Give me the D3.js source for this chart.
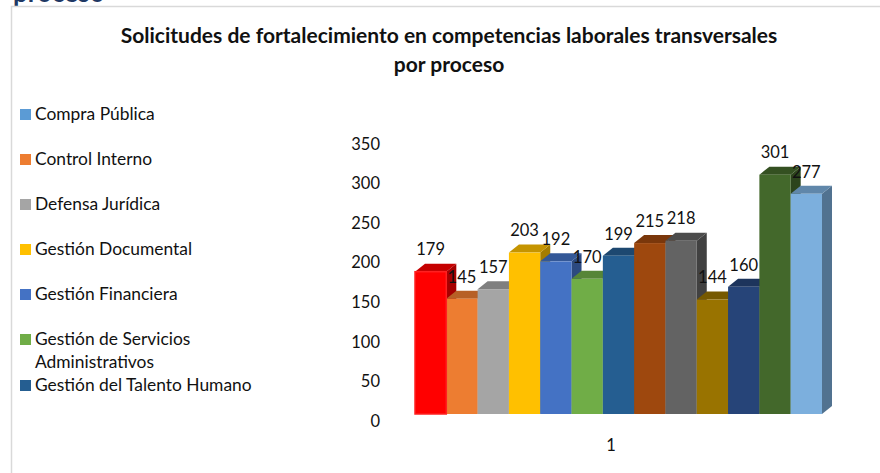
<!DOCTYPE html>
<html>
<head>
<meta charset="utf-8">
<script src="https://cdn.jsdelivr.net/npm/d3@7"></script>
<style>
    html, body { margin: 0; background: #fff; overflow: hidden; }
    text { font-family: Lato, "Open Sans", sans-serif; fill: #111; }
</style>
</head>
<body>
<div id="chart"></div>
<script>
const widthMax = 880;
const heightMax = 473;

const titleLines = ["Solicitudes de fortalecimiento en competencias laborales transversales", "por proceso"];
const legendNames = [
    ["Compra Pública"],
    ["Control Interno"],
    ["Defensa Jurídica"],
    ["Gestión Documental"],
    ["Gestión Financiera"],
    ["Gestión de Servicios", "Administrativos"],
    ["Gestión del Talento Humano"],
];
const legendColors = ["#5b9bd5", "#ed7d31", "#a5a5a5", "#ffc000", "#4472c4", "#70ad47", "#255e91"];
const legendRows = [114, 159, 204, 249, 294, 339, 385];

// bars left to right, the legend in the picture is cut off after the 7th name
const barValues = [179, 145, 157, 203, 192, 170, 199, 215, 218, 144, 160, 301, 277];
const barColors = ["#ff0000", "#ed7d31", "#a5a5a5", "#ffc000", "#4472c4", "#70ad47", "#255e91",
                   "#9e480e", "#636363", "#997300", "#264478", "#43682b", "#7cafdd"];
const yTicks = [0, 50, 100, 150, 200, 250, 300, 350];
const xLabel = "1";

const depthX = 10, depthY = 8;

const svg = d3.select("#chart").append("svg")
    .attr("width", widthMax)
    .attr("height", heightMax);

// clipped heading of the page above the chart
svg.append("text")
    .text("proceso")
    .attr("x", 13)
    .attr("y", 2)
    .style("font-size", "26px")
    .style("font-weight", "bold")
    .style("fill", "#1f3864");

// chart frame
svg.append("path")
    .attr("d", "M11.5,473V6.5H880")
    .attr("fill", "none")
    .attr("stroke", "#d9d9d9")
    .attr("stroke-width", 1.5);

// title
svg.append("g").selectAll("text")
    .data(titleLines)
    .enter()
    .append("text")
    .text((d) => d)
    .attr("x", 449)
    .attr("y", (d, i) => 43 + i * 29)
    .attr("text-anchor", "middle")
    .style("font-size", "21px")
    .style("font-weight", "bold");

// legend
const legend = svg.append("g");
legend.selectAll("rect")
    .data(legendColors)
    .enter()
    .append("rect")
    .attr("x", 20)
    .attr("y", (d, i) => legendRows[i] - 5)
    .attr("width", 11)
    .attr("height", 11)
    .attr("fill", (d) => d);
legend.selectAll("text")
    .data(legendNames)
    .enter()
    .append("text")
    .attr("y", (d, i) => legendRows[i])
    .style("font-size", "17.4px")
    .selectAll("tspan")
    .data((d) => d)
    .enter()
    .append("tspan")
    .attr("x", 35)
    .attr("dy", (d, i) => i == 0 ? "0.35em" : 23)
    .text((d) => d);

// scales: bars stand on 414, the axis labels sit 7px lower because of the 3D floor
const xScale = d3.scaleBand()
    .domain(d3.range(barValues.length))
    .range([415, 822])
    .padding(0);
const yScale = d3.scaleLinear()
    .domain([0, 350])
    .range([414, 414 - 350 * 0.795]);
const yAxisScale = d3.scaleLinear()
    .domain([0, 350])
    .range([421, 144]);

const yAxis = svg.append("g")
    .attr("transform", "translate(387,0)")
    .call(d3.axisLeft(yAxisScale).tickValues(yTicks).tickSize(0).tickPadding(7));
yAxis.select(".domain").remove();
yAxis.selectAll("text").style("font-size", "16.5px").style("font-family", "Lato");

svg.append("text")
    .text(xLabel)
    .attr("x", 611)
    .attr("y", 445)
    .attr("dy", "0.35em")
    .attr("text-anchor", "middle")
    .style("font-size", "16.5px");

// bars
const bars = svg.append("g").selectAll("g")
    .data(barValues)
    .enter()
    .append("g");

bars.append("path")
    .attr("fill", (d, i) => d3.color(barColors[i]).darker(1.2))
    .attr("d", (d, i) => {
        const x = xScale(i) + xScale.bandwidth(), y = yScale(d);
        return d3.line()([[x, y], [x + depthX, y - depthY], [x + depthX, yScale(0) - depthY], [x, yScale(0)]]) + "Z";
    });
bars.append("path")
    .attr("fill", (d, i) => d3.color(barColors[i]).darker(0.73))
    .attr("d", (d, i) => {
        const x = xScale(i), w = xScale.bandwidth(), y = yScale(d);
        return d3.line()([[x, y], [x + depthX, y - depthY], [x + w + depthX, y - depthY], [x + w, y]]) + "Z";
    });
bars.append("rect")
    .attr("x", (d, i) => xScale(i))
    .attr("y", (d) => yScale(d))
    .attr("width", xScale.bandwidth())
    .attr("height", (d) => yScale(0) - yScale(d))
    .attr("fill", (d, i) => barColors[i]);

// first bar has a glow in the reference, it spills over its neighbour
svg.append("rect")
    .datum(barValues[0])
    .attr("x", xScale(0))
    .attr("y", (d) => yScale(d))
    .attr("width", xScale.bandwidth())
    .attr("height", (d) => yScale(0) - yScale(d))
    .attr("fill", barColors[0])
    .attr("stroke", "#ff2020")
    .attr("stroke-width", 1.5);

// value labels
svg.append("g").selectAll("text")
    .data(barValues)
    .enter()
    .append("text")
    .text((d) => d)
    .attr("x", (d, i) => xScale(i) + xScale.bandwidth() / 2)
    .attr("y", (d) => yScale(d) - 22)
    .attr("dy", "0.35em")
    .attr("text-anchor", "middle")
    .style("font-size", "16.5px");
</script>
</body>
</html>
